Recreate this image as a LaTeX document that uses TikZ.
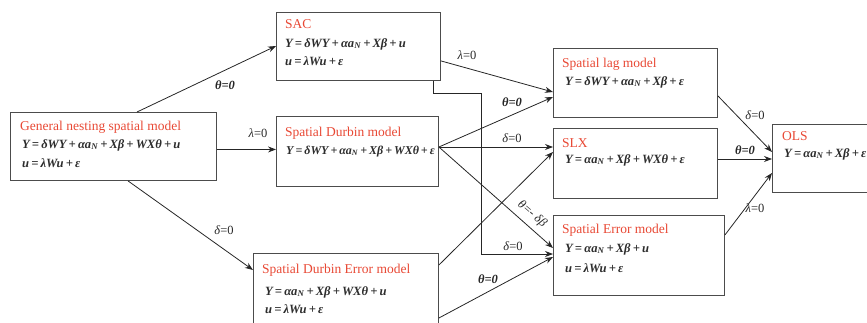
\documentclass[tikz,border=0pt]{standalone}
\usepackage{fontspec}
\setmainfont{Liberation Serif}
\usetikzlibrary{arrows.meta,calc}
\definecolor{ttlred}{RGB}{232,72,52}
\definecolor{eqgray}{RGB}{45,45,45}
\newcommand\sbN{\textsubscript{N}}
\newcommand\pl{\,+\,}
\newcommand\eqs{\,=\,}
\begin{document}
\begin{tikzpicture}[x=1pt,y=-1pt,
  box/.style={draw=black!70, line width=0.9pt, inner sep=0pt, anchor=north west},
  ttl/.style={text=ttlred, font=\fontsize{13.5}{15}\selectfont, anchor=base west, inner sep=0pt},
  eqn/.style={text=eqgray, font=\fontsize{12.6}{14}\selectfont\bfseries\itshape, anchor=base west, inner sep=0pt},
  eqns/.style={eqn, font=\fontsize{12}{14}\selectfont\bfseries\itshape},
  lbl/.style={text=black!85, font=\fontsize{12.5}{14}\selectfont, inner sep=0pt},
  lblb/.style={text=black!85, font=\fontsize{12.5}{14}\selectfont\bfseries\itshape, inner sep=0pt},
  arr/.style={draw=black!85, line width=0.8pt, -{Stealth[length=8pt,width=6pt]}},
]
\useasboundingbox (0,0) rectangle (867,322);
% boxes
\node[box, minimum width=206, minimum height=68] (gns) at (10,112) {};
\node[box, minimum width=164, minimum height=68] (sac) at (276,12) {};
\node[box, minimum width=162, minimum height=70] (sdm) at (276,116) {};
\node[box, minimum width=185, minimum height=75] (sde) at (253,253) {};
\node[box, minimum width=164, minimum height=69] (slm) at (553,48) {};
\node[box, minimum width=164, minimum height=70] (slx) at (553,128) {};
\node[box, minimum width=171, minimum height=80] (sem) at (553,215) {};
\node[box, minimum width=100, minimum height=68] (ols) at (772,124) {};
% texts
\node[ttl] (gnsT) at (20,130) {General nesting spatial model};
\node[eqn] (gnsE1) at (22,148) {Y\eqs δWY\pl αa\sbN\pl Xβ\pl WXθ\pl u};
\node[eqn] (gnsE2) at (22,167) {u\eqs λWu\pl ε};
\node[ttl] (sacT) at (285,28) {SAC};
\node[eqn] (sacE1) at (285,47) {Y\eqs δWY\pl αa\sbN\pl Xβ\pl u};
\node[eqn] (sacE2) at (285,65) {u\eqs λWu\pl ε};
\node[ttl] (sdmT) at (285,136) {Spatial Durbin model};
\node[eqns] (sdmE1) at (286,154) {Y\eqs δWY\pl αa\sbN\pl Xβ\pl WXθ\pl ε};
\node[ttl] (sdeT) at (262,273) {Spatial Durbin Error model};
\node[eqn] (sdeE1) at (265,295) {Y\eqs αa\sbN\pl Xβ\pl WXθ\pl u};
\node[eqn] (sdeE2) at (265,313) {u\eqs λWu\pl ε};
\node[ttl] (slmT) at (562,67) {Spatial lag model};
\node[eqn] (slmE1) at (565,85) {Y\eqs δWY\pl αa\sbN\pl Xβ\pl ε};
\node[ttl] (slxT) at (562,147) {SLX};
\node[eqn] (slxE1) at (565,163) {Y\eqs αa\sbN\pl Xβ\pl WXθ\pl ε};
\node[ttl] (semT) at (562,233) {Spatial Error model};
\node[eqn] (semE1) at (565,252) {Y\eqs αa\sbN\pl Xβ\pl u};
\node[eqn] (semE2) at (565,272) {u\eqs λWu\pl ε};
\node[ttl] (olsT) at (782,140) {OLS};
\node[eqn] (olsE1) at (784,157) {Y\eqs αa\sbN\pl Xβ\pl ε};
% connectors
\draw[arr] ([xshift=127pt]gns.north west) -- ([yshift=-34pt]sac.north west);
\draw[arr] ([yshift=-3pt]gns.east) -- ([yshift=2pt]sdm.west);
\draw[arr] ([xshift=118pt]gns.south west) -- ([yshift=-17pt]sde.north west);
\draw[arr] ([yshift=20pt]sac.south east) -- ([yshift=-44pt]slm.north west);
\draw[arr] ([yshift=-31pt]sdm.north east) -- ([yshift=-49pt]slm.north west);
\draw[arr] ([yshift=-31pt]sdm.north east) -- ([yshift=-19pt]slx.north west);
\draw[arr] ([yshift=-31pt]sdm.north east) -- ([yshift=-33pt]sem.north west);
\draw[arr] ([yshift=-12pt]sde.north east) -- ([yshift=-24pt]slx.north west);
\draw[arr] ([xshift=-8pt]sac.south east) -- ++(0,12) -- ++(48,0) |- ([yshift=-39pt]sem.north west);
\draw[arr] ([yshift=-65pt]sde.north east) -- ([yshift=-42pt]sem.north west);
\draw[arr] ([yshift=22pt]slm.south east) -- ([yshift=-28pt]ols.north west);
\draw[arr] ([yshift=-31pt]slx.north east) -- ([yshift=-35pt]ols.north west);
\draw[arr] ([yshift=-20pt]sem.north east) -- ([yshift=-49pt]ols.north west);
% labels
\node[lblb] (l1) at (225,85) {θ=0};
\node[lbl] (l2) at (258,133) {\textit{λ}=0};
\node[lbl] (l3) at (224,230) {\textit{δ}=0};
\node[lbl] (l4) at (467,55) {\textit{λ}=0};
\node[lblb] (l5) at (512,102) {θ=0};
\node[lbl] (l6) at (512,138) {\textit{δ}=0};
\node[lbl, font=\fontsize{12.5}{14}\selectfont\itshape, rotate=-41] (l7) at (532,214) {θ=- δβ};
\node[lbl] (l8) at (513,246) {\textit{δ}=0};
\node[lblb] (l9) at (488,279) {θ=0};
\node[lbl] (l10) at (755,115) {\textit{δ}=0};
\node[lblb] (l11) at (745,150) {θ=0};
\node[lbl] (l12) at (755,208) {\textit{λ}=0};
\end{tikzpicture}
\end{document}
